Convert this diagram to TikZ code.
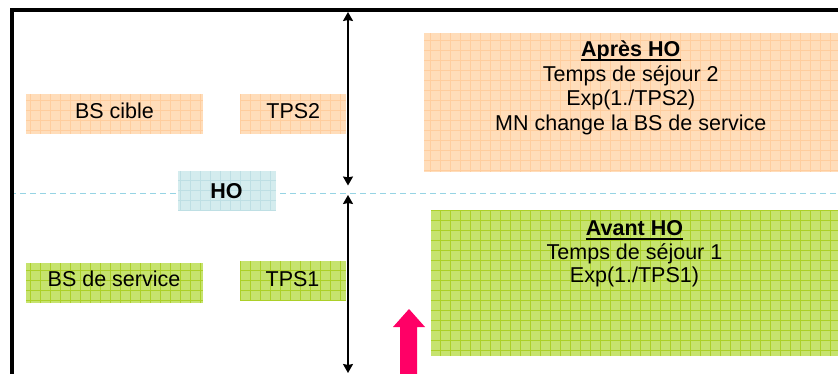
\documentclass[tikz,border=0pt]{standalone}
\usepackage{fontspec}
\setmainfont{Liberation Sans}
\usetikzlibrary{arrows.meta}
\definecolor{orfill}{RGB}{255,221,186}
\definecolor{orgrid}{RGB}{255,205,158}
\definecolor{grfill}{RGB}{198,227,110}
\definecolor{grgrid}{RGB}{172,208,40}
\definecolor{blfill}{RGB}{212,236,238}
\definecolor{blgrid}{RGB}{190,223,228}
\definecolor{pinkarrow}{RGB}{255,0,102}
\definecolor{dashblue}{RGB}{150,212,228}
\tikzset{
  lbl/.style={font=\fontsize{21.5}{25}\selectfont, inner sep=0pt, anchor=base},
  boxnode/.style={inner sep=0pt, outer sep=0pt, draw=none, fill=#1},
  dbl/.style={line width=1.6pt, {Stealth[length=9pt,width=10pt,inset=1pt]}-{Stealth[length=9pt,width=10pt,inset=1pt]}},
}
\newcommand\boxgrid[2]{%
  \begin{scope}
    \clip (#1.south west) rectangle (#1.north east);
    \draw[#2, line width=0.6pt, step=10pt] (#1.south west) grid (#1.north east);
  \end{scope}}
\begin{document}
\begin{tikzpicture}[x=1pt,y=-1pt]
\useasboundingbox (0,0) rectangle (838,374);
\fill[white] (0,0) rectangle (838,374);
% dashed separator
\coordinate (dl) at (10,194);
\coordinate (dr) at (838,194);
\draw[dashblue, line width=1pt, dash pattern=on 6pt off 4pt] (dl) -- (dr);
% boxes
\node[boxnode=orfill, minimum width=177pt, minimum height=40pt] (bscible) at (114.5,114) {};
\node[boxnode=orfill, minimum width=106pt, minimum height=40pt] (tps2) at (293,114) {};
\node[boxnode=blfill, minimum width=98pt, minimum height=40pt] (ho) at (227,191) {};
\node[boxnode=grfill, minimum width=177pt, minimum height=40pt] (bsserv) at (114.5,283) {};
\node[boxnode=grfill, minimum width=106pt, minimum height=39pt] (tps1) at (293,280.5) {};
\node[boxnode=orfill, minimum width=414pt, minimum height=139pt] (apres) at (631,102.5) {};
\node[boxnode=grfill, minimum width=407pt, minimum height=146pt] (avant) at (634.5,283) {};
\boxgrid{bscible}{orgrid}
\boxgrid{tps2}{orgrid}
\boxgrid{ho}{blgrid}
\boxgrid{bsserv}{grgrid}
\boxgrid{tps1}{grgrid}
\boxgrid{apres}{orgrid}
\boxgrid{avant}{grgrid}
% labels
\node[lbl] (tbscible) at (114.5,119) {BS cible};
\node[lbl] (ttps2) at (293.3,119) {TPS2};
\node[lbl] (tho) at (226.5,198.5) {\textbf{HO}};
\node[lbl] (tbsserv) at (114,286.7) {BS de service};
\node[lbl] (ttps1) at (292.5,286.7) {TPS1};
\node[lbl] (ta1) at (630.8,57) {\textbf{Après HO}};
\node[lbl] (ta2) at (630.8,81.5) {Temps de séjour 2};
\node[lbl] (ta3) at (630.8,106) {Exp(1./TPS2)};
\node[lbl] (ta4) at (630.8,130.5) {MN change la BS de service};
\draw[line width=1.6pt] ([yshift=-3pt]ta1.base west) -- ([yshift=-3pt]ta1.base east);
\node[lbl] (tb1) at (634.5,236) {\textbf{Avant HO}};
\node[lbl] (tb2) at (634.5,259) {Temps de séjour 1};
\node[lbl] (tb3) at (634.5,282) {Exp(1./TPS1)};
\draw[line width=1.6pt] ([yshift=-3pt]tb1.base west) -- ([yshift=-3pt]tb1.base east);
% frame
\draw[line width=4pt, line join=miter] (11.5,374) -- (11.5,10.5) -- (838,10.5);
% double arrows
\coordinate (a1t) at (348,12);
\coordinate (a1b) at (348,185.5);
\coordinate (a2t) at (348,195);
\coordinate (a2b) at (348,373);
\draw[dbl] (a1t) -- (a1b);
\draw[dbl] (a2t) -- (a2b);
% pink arrow
\fill[pinkarrow] (400,374) -- (400,327) -- (393,327) -- (409,309) -- (425,327) -- (417,327) -- (417,374) -- cycle;
\end{tikzpicture}
\end{document}
